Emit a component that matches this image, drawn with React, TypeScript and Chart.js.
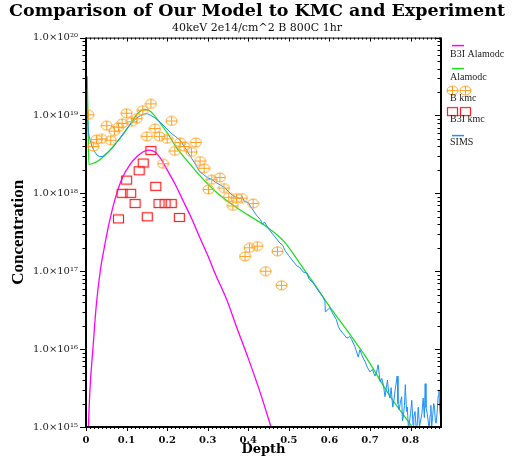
import { useEffect, useRef } from 'react';
import { Chart, registerables } from 'chart.js';

Chart.register(...registerables);

const TITLE = 'Comparison of Our Model to KMC and Experiment';
const SUBTITLE = '40keV 2e14/cm^2 B 800C 1hr';
const X_TITLE = 'Depth';
const Y_TITLE = 'Concentration';
const X_TICKS = [0, 0.1, 0.2, 0.3, 0.4, 0.5, 0.6, 0.7, 0.8];
const Y_TICKS = [1e15, 1e16, 1e17, 1e18, 1e19, 1e20];
const LEGEND_LABELS = ['B3I Alamodc', 'Alamodc', 'B kmc', 'B3I kmc', 'SIMS'];

const COLORS = ['#FF00FF', '#22DD22', '#FFA020', '#FF2020', '#1E90FF'];

// B3I Alamodc (magenta line)
const b3iModelDepth = [0.004, 0.006, 0.01, 0.017, 0.025, 0.035, 0.045, 0.055, 0.07, 0.09, 0.11, 0.125, 0.14, 0.155, 0.17, 0.185, 0.2, 0.22, 0.24, 0.26, 0.28, 0.3, 0.32, 0.347, 0.37, 0.4, 0.43, 0.456, 0.465];
const b3iModelConc = [4e14, 1.0e15, 3.2e15, 1.0e16, 3.5e16, 1.0e17, 2.0e17, 3.7e17, 7.9e17, 1.6e18, 2.4e18, 2.95e18, 3.4e18, 3.6e18, 3.4e18, 2.75e18, 2.0e18, 1.3e18, 7.9e17, 4.8e17, 2.75e17, 1.6e17, 8.9e16, 4.3e16, 2.0e16, 7.6e15, 2.7e15, 1.0e15, 7e14];

// Alamodc (green line)
const modelDepth = [0.003, 0.005, 0.007, 0.015, 0.03, 0.05, 0.067, 0.09, 0.108, 0.128, 0.145, 0.16, 0.182, 0.2, 0.224, 0.25, 0.28, 0.32, 0.36, 0.4, 0.446, 0.49, 0.527, 0.56, 0.6, 0.638, 0.692, 0.749, 0.8, 0.81];
const modelConc = [3.2e19, 7.9e18, 2.35e18, 2.4e18, 2.6e18, 3.2e18, 4.0e18, 5.6e18, 7.6e18, 1.07e19, 1.2e19, 1.12e19, 8.1e18, 6.0e18, 3.8e18, 2.6e18, 1.7e18, 1.05e18, 7.2e17, 5.25e17, 3.7e17, 2.35e17, 1.26e17, 7.2e16, 3.55e16, 1.9e16, 7.6e15, 2.5e15, 1.07e15, 8.9e14];

// B kmc (orange circled plus)
const bKmcDepth = [0.006, 0.018, 0.026, 0.039, 0.051, 0.061, 0.07, 0.08, 0.089, 0.1, 0.113, 0.125, 0.14, 0.16, 0.15, 0.17, 0.181, 0.2, 0.211, 0.19, 0.219, 0.232, 0.242, 0.26, 0.271, 0.281, 0.291, 0.31, 0.302, 0.33, 0.34, 0.352, 0.371, 0.384, 0.362, 0.412, 0.403, 0.422, 0.392, 0.472, 0.443, 0.482];
const bKmcConc = [1.02e19, 4.0e18, 4.9e18, 5.0e18, 7.4e18, 4.8e18, 6.3e18, 7.1e18, 7.9e18, 1.07e19, 8.3e18, 9.1e18, 1.17e19, 1.41e19, 5.4e18, 6.8e18, 5.4e18, 5.0e18, 8.5e18, 2.4e18, 3.5e18, 4.5e18, 4.0e18, 3.4e18, 4.5e18, 2.6e18, 2.1e18, 1.5e18, 1.12e18, 1.6e18, 1.17e18, 8.9e17, 8.7e17, 8.7e17, 6.9e17, 7.4e17, 2.0e17, 2.1e17, 1.55e17, 1.8e17, 1.0e17, 6.6e16];

// B3I kmc (red squares)
const b3iKmcDepth = [0.16, 0.141, 0.131, 0.1, 0.089, 0.11, 0.172, 0.121, 0.18, 0.195, 0.21, 0.08, 0.151, 0.23];
const b3iKmcConc = [3.55e18, 2.45e18, 1.95e18, 1.48e18, 1.0e18, 1.0e18, 1.23e18, 7.4e17, 7.4e17, 7.4e17, 7.4e17, 4.7e17, 5.0e17, 4.9e17];

// SIMS (blue line)
const simsDepth = [0.002, 0.004, 0.006, 0.01, 0.015, 0.02, 0.027, 0.034, 0.042, 0.05, 0.058, 0.067, 0.075, 0.085, 0.095, 0.105, 0.115, 0.125, 0.135, 0.145, 0.152, 0.16, 0.17, 0.182, 0.195, 0.21, 0.22, 0.232, 0.245, 0.258, 0.27, 0.28, 0.29, 0.3, 0.31, 0.32, 0.33, 0.34, 0.35, 0.36, 0.37, 0.38, 0.385, 0.39, 0.4, 0.41, 0.42, 0.43, 0.435, 0.44, 0.45, 0.46, 0.47, 0.478, 0.485, 0.49, 0.5, 0.51, 0.52, 0.527, 0.535, 0.544, 0.55, 0.56, 0.569, 0.577, 0.583, 0.589, 0.59, 0.601, 0.61, 0.617, 0.622, 0.626, 0.634, 0.643, 0.65, 0.655, 0.663, 0.671, 0.675, 0.682, 0.688, 0.694, 0.7, 0.706, 0.712, 0.716, 0.72, 0.725, 0.729, 0.733, 0.737, 0.743, 0.746, 0.749, 0.752, 0.756, 0.759, 0.762, 0.767, 0.769, 0.772, 0.775, 0.778, 0.78, 0.782, 0.785, 0.787, 0.79, 0.792, 0.795, 0.797, 0.8, 0.803, 0.806, 0.808, 0.811, 0.815, 0.817, 0.819, 0.822, 0.825, 0.828, 0.831, 0.834, 0.836, 0.838, 0.841, 0.844, 0.846, 0.848, 0.85, 0.852, 0.854, 0.857, 0.859, 0.861, 0.863, 0.866, 0.868, 0.87, 0.872, 0.874];
const simsConc = [1.41e19, 8.9e18, 6.0e18, 4.8e18, 4.0e18, 3.5e18, 3.1e18, 2.95e18, 3.0e18, 3.25e18, 3.55e18, 3.9e18, 4.5e18, 5.25e18, 6.2e18, 7.2e18, 8.3e18, 9.3e18, 1.0e19, 1.05e19, 1.05e19, 1.0e19, 9.3e18, 8.3e18, 7.1e18, 5.9e18, 5.4e18, 4.8e18, 3.8e18, 2.95e18, 2.35e18, 1.9e18, 1.74e18, 1.58e18, 1.51e18, 1.38e18, 1.29e18, 1.2e18, 1.07e18, 9.5e17, 8.9e17, 8.5e17, 9.1e17, 7.9e17, 7.6e17, 6.3e17, 5.25e17, 4.6e17, 4.0e17, 4.3e17, 3.5e17, 3.0e17, 2.6e17, 2.3e17, 2.15e17, 1.86e17, 1.58e17, 1.35e17, 1.17e17, 1.12e17, 9.8e16, 9.5e16, 7.9e16, 7.1e16, 6.0e16, 5.25e16, 4.8e16, 4.1e16, 3.0e16, 3.4e16, 2.75e16, 2.4e16, 1.95e16, 1.78e16, 1.58e16, 1.38e16, 1.45e16, 1.32e16, 1.07e16, 7.9e15, 9.8e15, 7.9e15, 6.9e15, 5.75e15, 5.1e15, 5.5e15, 4.5e15, 5.0e15, 6.3e15, 3.8e15, 4.2e15, 3.5e15, 2.45e15, 4.0e15, 2.8e15, 2.35e15, 3.2e15, 1.8e15, 2.2e15, 3.0e15, 4.5e15, 2.0e15, 1.66e15, 2.1e15, 2.45e15, 1.2e15, 1.35e15, 1.9e15, 3.5e15, 1.58e15, 1.8e15, 8.9e14, 1.12e15, 1.5e15, 2.2e15, 1.05e15, 1.35e15, 1.58e15, 7.9e14, 1.26e15, 1.8e15, 1.0e15, 1.23e15, 1.5e15, 2.35e15, 1.32e15, 3.6e15, 1.78e15, 1.5e15, 1.12e15, 8.9e14, 1.41e15, 1.9e15, 1.0e15, 1.29e15, 2.0e15, 1.8e15, 1.2e15, 1.12e15, 1.66e15, 2.5e15, 3.0e15, 1.58e15, 1.35e15];

const pts = (xs: number[], ys: number[]) => xs.map((x, i) => ({ x, y: ys[i] }));

const SUP = '⁰¹²³⁴⁵⁶⁷⁸⁹';
const sup = (n: number) => String(n).split('').map((d) => SUP[+d]).join('');

function makeCirclePlus(color: string) {
  const c = document.createElement('canvas');
  c.width = 13;
  c.height = 11;
  const g = c.getContext('2d')!;
  g.strokeStyle = color;
  g.lineWidth = 1;
  g.beginPath();
  g.ellipse(6.5, 5.5, 5.5, 4.5, 0, 0, Math.PI * 2);
  g.stroke();
  g.beginPath();
  g.moveTo(1, 5.5);
  g.lineTo(12, 5.5);
  g.moveTo(6.5, 1);
  g.lineTo(6.5, 10);
  g.stroke();
  return c;
}

function makeSquare(color: string) {
  const c = document.createElement('canvas');
  c.width = 13;
  c.height = 11;
  const g = c.getContext('2d')!;
  g.strokeStyle = color;
  g.lineWidth = 1.2;
  g.strokeRect(1.5, 1.5, 10, 8);
  return c;
}

export default function App() {
  const ref = useRef<HTMLCanvasElement>(null);

  useEffect(() => {
    document.body.style.margin = '0';
    const circ = makeCirclePlus(COLORS[2]);
    const sq = makeSquare(COLORS[3]);

    const frame = {
      id: 'frame',
      afterDraw(chart: any) {
        const { ctx, chartArea } = chart;
        const { left, right, top, bottom } = chartArea;
        const xs = chart.scales.x;
        const ys = chart.scales.y;
        ctx.save();
        ctx.strokeStyle = '#000';
        ctx.lineWidth = 1;
        ctx.beginPath();
        for (let i = 0; i <= 87; i++) {
          const px = Math.round(xs.getPixelForValue(i / 100)) + 0.5;
          const len = i % 10 === 0 ? 4 : 2;
          ctx.moveTo(px, bottom);
          ctx.lineTo(px, bottom + len);
          ctx.moveTo(px, top);
          ctx.lineTo(px, top + len);
        }
        for (let e = 15; e <= 19; e++) {
          for (let m = 1; m <= 9; m++) {
            const py = Math.round(ys.getPixelForValue(m * Math.pow(10, e))) + 0.5;
            const len = m === 1 ? 6 : 3.5;
            ctx.moveTo(left, py);
            ctx.lineTo(left - len, py);
            ctx.moveTo(right, py);
            ctx.lineTo(right - len, py);
          }
        }
        const pTop = Math.round(ys.getPixelForValue(1e20)) + 0.5;
        ctx.moveTo(left, pTop);
        ctx.lineTo(left - 6, pTop);
        ctx.moveTo(right, pTop);
        ctx.lineTo(right - 6, pTop);
        ctx.stroke();

        ctx.beginPath();
        ctx.moveTo(left, top + 0.5);
        ctx.lineTo(right, top + 0.5);
        ctx.stroke();

        ctx.lineWidth = 2;
        ctx.beginPath();
        ctx.moveTo(left, top);
        ctx.lineTo(left, bottom);
        ctx.lineTo(right, bottom);
        ctx.lineTo(right, top);
        ctx.stroke();

        // legend
        const lx = right + 10;
        ctx.font = '10px "Liberation Serif"';
        ctx.fillStyle = '#222';
        ctx.textBaseline = 'middle';
        ctx.textAlign = 'left';
        const rows = [
          { kind: 'line', color: COLORS[0], sy: 46, ty: 55 },
          { kind: 'line', color: COLORS[1], sy: 69, ty: 78 },
          { kind: 'circ', color: COLORS[2], sy: 91, ty: 99 },
          { kind: 'sq', color: COLORS[3], sy: 112, ty: 120 },
          { kind: 'line', color: COLORS[4], sy: 136, ty: 143 },
        ];
        rows.forEach((r, i) => {
          if (r.kind === 'line') {
            ctx.strokeStyle = r.color;
            ctx.lineWidth = 1.5;
            ctx.beginPath();
            ctx.moveTo(lx + 1, top + r.sy - 38);
            ctx.lineTo(lx + 13, top + r.sy - 38);
            ctx.stroke();
          } else {
            const img = r.kind === 'circ' ? circ : sq;
            ctx.drawImage(img, lx - 5, top + r.sy - 38 - 5.5);
            ctx.drawImage(img, lx + 8, top + r.sy - 38 - 5.5);
          }
          ctx.fillText(LEGEND_LABELS[i], lx - 1, top + r.ty - 38);
        });
        ctx.restore();
      },
    };

    const chart = new Chart(ref.current!, {
      type: 'scatter',
      data: {
        datasets: [
          {
            label: LEGEND_LABELS[2],
            data: pts(bKmcDepth, bKmcConc),
            pointStyle: circ as any,
            pointRadius: 5,
            borderColor: COLORS[2],
          },
          {
            label: LEGEND_LABELS[3],
            data: pts(b3iKmcDepth, b3iKmcConc),
            pointStyle: sq as any,
            pointRadius: 5,
            borderColor: COLORS[3],
          },
          {
            label: LEGEND_LABELS[4],
            data: pts(simsDepth, simsConc),
            showLine: true,
            borderColor: COLORS[4],
            borderWidth: 1,
            pointRadius: 0,
            tension: 0,
            clip: 0 as any,
          },
          {
            label: LEGEND_LABELS[0],
            data: pts(b3iModelDepth, b3iModelConc),
            showLine: true,
            borderColor: COLORS[0],
            borderWidth: 1.3,
            pointRadius: 0,
            cubicInterpolationMode: 'monotone',
            clip: 0 as any,
          },
          {
            label: LEGEND_LABELS[1],
            data: pts(modelDepth, modelConc),
            showLine: true,
            borderColor: COLORS[1],
            borderWidth: 1.3,
            pointRadius: 0,
            cubicInterpolationMode: 'monotone',
            clip: 0 as any,
          },
        ],
      },
      options: {
        responsive: false,
        animation: false,
        devicePixelRatio: 1,
        layout: { padding: 0 },
        plugins: {
          legend: { display: false },
          tooltip: { enabled: false },
          title: {
            display: true,
            text: TITLE,
            color: '#000',
            font: { family: '"DejaVu Serif"', size: 17.5, weight: 'bold' },
            padding: { top: 1, bottom: 0 },
          },
          subtitle: {
            display: true,
            text: SUBTITLE,
            color: '#111',
            font: { family: '"DejaVu Serif"', size: 11 },
            padding: { top: 0, bottom: 2.4 },
          },
        },
        scales: {
          x: {
            type: 'linear',
            min: 0,
            max: 0.875,
            afterBuildTicks: (s: any) => {
              s.ticks = X_TICKS.map((v) => ({ value: v }));
            },
            afterFit: (s: any) => {
              s.height = 30;
            },
            grid: { display: false, drawTicks: false, tickLength: 0 },
            border: { display: false },
            ticks: {
              autoSkip: false,
              maxRotation: 0,
              padding: 7,
              color: '#111',
              font: { family: '"DejaVu Serif"', size: 10, weight: 'bold' },
              callback: (v: any) => (Number(v) === 0 ? '0' : Number(v).toFixed(1)),
            },
            title: {
              display: true,
              text: X_TITLE,
              color: '#000',
              font: { family: '"DejaVu Serif"', size: 13, weight: 'bold' },
              padding: { top: 0, bottom: 0 },
            },
          },
          y: {
            type: 'logarithmic',
            min: 1e15,
            max: 1e20,
            afterBuildTicks: (s: any) => {
              s.ticks = Y_TICKS.map((v) => ({ value: v }));
            },
            afterFit: (s: any) => {
              s.width = 86;
            },
            grid: { display: false, drawTicks: false, tickLength: 0 },
            border: { display: false },
            ticks: {
              autoSkip: false,
              padding: 8,
              color: '#222',
              font: { family: '"DejaVu Serif"', size: 10 },
              callback: (v: any) => {
                const e = Math.round(Math.log10(Number(v)));
                return '1.0×10' + sup(e);
              },
            },
            title: {
              display: true,
              text: Y_TITLE,
              color: '#000',
              font: { family: '"Liberation Serif"', size: 17, weight: 'bold' },
              padding: { top: 8, bottom: 0 },
            },
          },
          y2: {
            type: 'linear',
            position: 'right',
            display: true,
            min: 0,
            max: 1,
            afterFit: (s: any) => {
              s.width = 73;
            },
            grid: { display: false, drawTicks: false },
            border: { display: false },
            ticks: { display: false },
          },
        },
      },
      plugins: [frame],
    } as any);

    return () => chart.destroy();
  }, []);

  return <canvas ref={ref} width={514} height={457} style={{ display: 'block' }} />;
}
